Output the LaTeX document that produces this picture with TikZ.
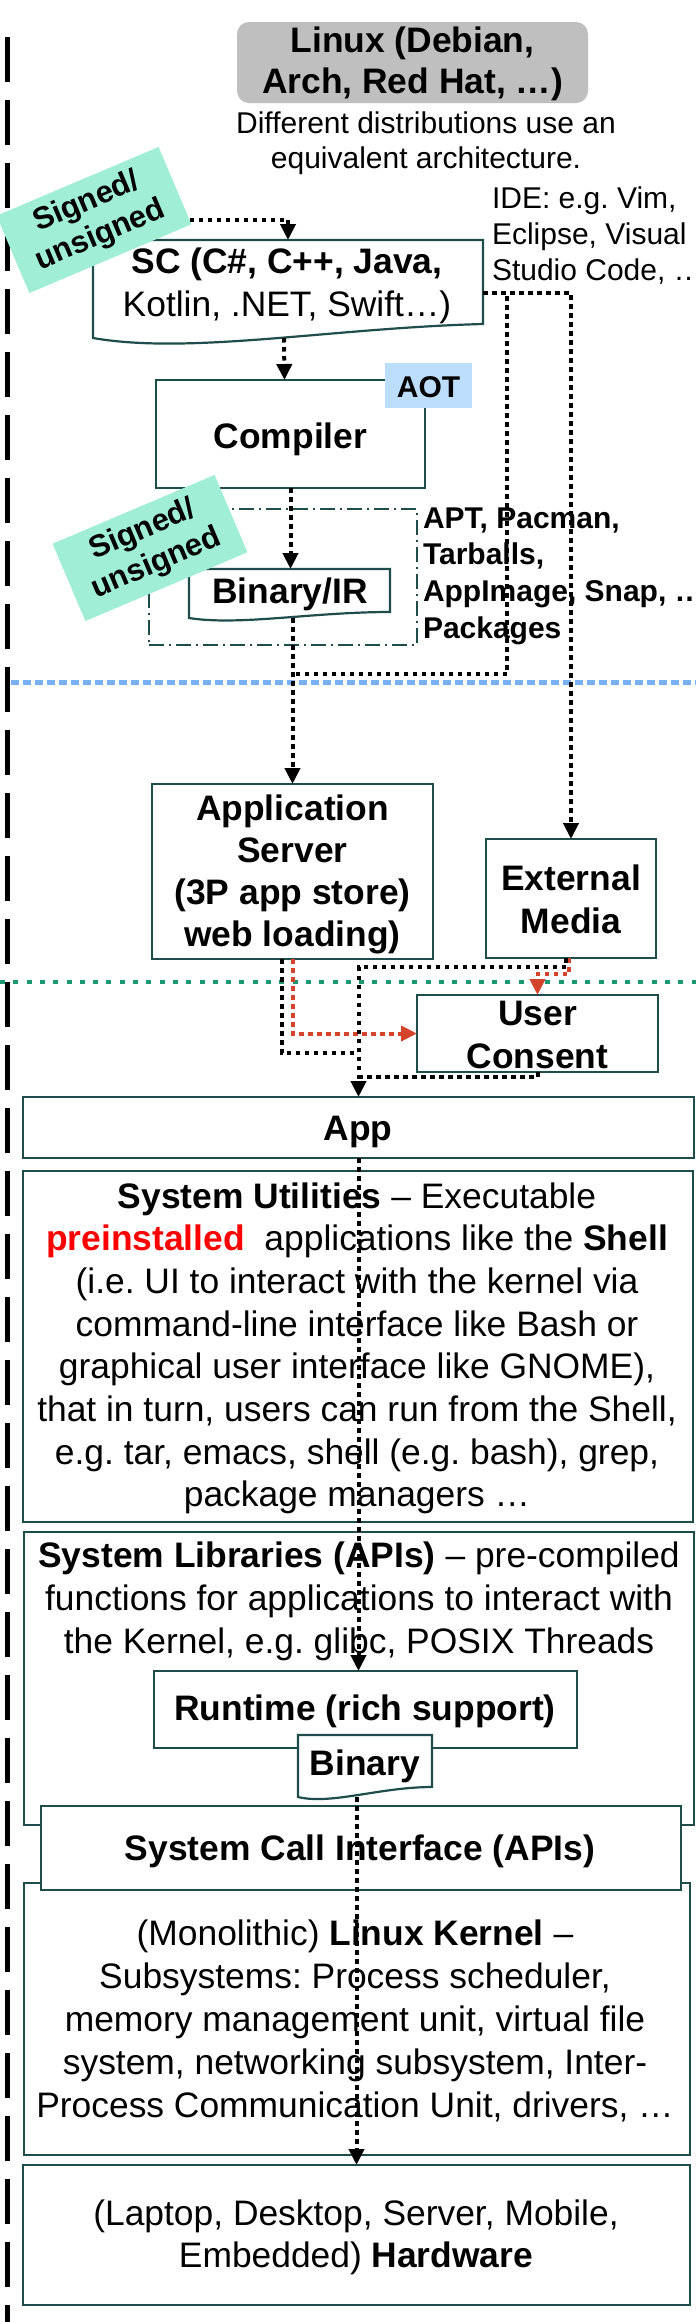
\documentclass[tikz,border=0pt]{standalone}
\usepackage{fontspec}
\setmainfont{Liberation Sans}
\usetikzlibrary{arrows.meta,calc}
\definecolor{boxc}{HTML}{1E4D4B}
\definecolor{linuxgray}{HTML}{BFBFBF}
\definecolor{mint}{HTML}{9FEED5}
\definecolor{aotblue}{HTML}{BDDDFC}
\definecolor{redc}{HTML}{D4432B}
\definecolor{sepblue}{HTML}{78B0F5}
\definecolor{sepgreen}{HTML}{1A9970}
\definecolor{redtxt}{HTML}{FF0000}
\frenchspacing
\newcommand\fsn[2]{\fontsize{#1}{#2}\selectfont\frenchspacing}
\newcommand\fsb[2]{\fontsize{#1}{#2}\selectfont\bfseries\frenchspacing}
\begin{document}
\begin{tikzpicture}[x=1pt,y=-1pt,
  boxline/.style={draw=boxc,line width=2.2pt},
  shapebox/.style={rectangle,inner sep=0pt,outer sep=0pt},
  layer/.style={shapebox,boxline,fill=white},
  txt/.style={inner sep=0pt,outer sep=0pt,align=center},
  conn/.style={draw=black,line width=4pt,dash pattern=on 4.5pt off 4.5pt},
  redconn/.style={conn,draw=redc},
  arr/.style={-{Triangle[length=16pt,width=15pt]}},
  sig/.style={shapebox,fill=mint,minimum width=176pt,minimum height=84pt,rotate=23,align=center,font=\fsb{31}{36}},
]
\useasboundingbox (0,0) rectangle (696,2322);
\fill[white] (0,0) rectangle (696,2322);

% separators
\draw[line width=5pt,dash pattern=on 45pt off 18pt] (7,37) -- (7,2322);
\draw[sepblue,line width=5pt,dash pattern=on 8pt off 4pt] (11,682) -- (696,682);
\draw[sepgreen,line width=4pt,dash pattern=on 5pt off 8.3pt] (0,982) -- (696,982);

% boxes
\node[shapebox,fill=linuxgray,rounded corners=12pt,minimum width=351pt,minimum height=81pt] (linux) at (412.5,62.5) {};
\node[shapebox,minimum width=390pt,minimum height=98pt] (sc) at (288,289) {};
\draw[boxline,fill=white] (sc.north west) -- (sc.north east) -- ($(sc.south east)+(0,-14)$)
  .. controls ($(sc.south west)!0.61!(sc.south east)+(0,-10)$) and ($(sc.south west)!0.25!(sc.south east)+(0,17)$) .. (sc.south west) -- cycle;
\node[layer,minimum width=269pt,minimum height=108pt] (compiler) at (290.5,434) {};
\node[shapebox,fill=aotblue,minimum width=87pt,minimum height=45pt] (aot) at (428.5,385.5) {};
\node[shapebox,draw=boxc,line width=2pt,dash pattern=on 15pt off 5pt on 2pt off 5pt,minimum width=268pt,minimum height=136pt] (pkg) at (283,577) {};
\node[shapebox,minimum width=201pt,minimum height=49pt] (bir) at (289.5,593.5) {};
\draw[boxline,fill=white] (bir.north west) -- (bir.north east) -- ($(bir.south east)+(0,-6)$)
  .. controls ($(bir.south west)!0.61!(bir.south east)+(0,-6)$) and ($(bir.south west)!0.25!(bir.south east)+(0,8)$) .. (bir.south west) -- cycle;
\node[layer,minimum width=281pt,minimum height=175pt] (appserver) at (292.5,871.5) {};
\node[layer,minimum width=170pt,minimum height=119pt] (ext) at (571,898.5) {};
\node[layer,minimum width=241pt,minimum height=77pt] (usercons) at (537.5,1033.5) {};
\node[layer,minimum width=671pt,minimum height=61pt] (app) at (358.5,1127.5) {};
\node[layer,minimum width=670pt,minimum height=351pt] (util) at (358,1346.5) {};
\node[layer,minimum width=670pt,minimum height=293pt] (libs) at (359,1678.5) {};
\node[layer,minimum width=423pt,minimum height=77pt] (runtime) at (365.5,1709.5) {};
\node[shapebox,minimum width=134pt,minimum height=62pt] (bin) at (365,1766) {};
\draw[boxline,fill=white] (bin.north west) -- (bin.north east) -- ($(bin.south east)+(0,-10)$)
  .. controls ($(bin.south west)!0.61!(bin.south east)+(0,-10)$) and ($(bin.south west)!0.25!(bin.south east)+(0,8)$) .. (bin.south west) -- cycle;
\node[layer,minimum width=666pt,minimum height=272pt] (kernel) at (357,2019) {};
\node[layer,minimum width=640pt,minimum height=84pt] (syscall) at (361,1848) {};
\node[layer,minimum width=667pt,minimum height=140pt] (hardware) at (356.5,2235) {};

% texts
\node[txt,font=\fsb{35.4}{41}] (linuxtext) at (412.5,65) {\strut Linux (Debian,\\Arch, Red Hat, …)\strut};
\node[txt,font=\fsn{30}{35}] (disttext) at (426,143.5) {\strut Different distributions use an\\equivalent architecture.\strut};
\node[txt,align=left,anchor=west,font=\fsn{30}{36}] (idetext) at (492,236.8) {\strut IDE: e.g. Vim,\\Eclipse, Visual\\Studio Code, …\strut};
\node[txt,font=\fsn{35.4}{43}] (sctext) at (287,285.9) {\strut\textbf{SC (C\#, C++, Java,}\\Kotlin, .NET, Swift…)\strut};
\node[txt,anchor=base,font=\fsb{30}{36}] (aottext) at (428.5,397) {AOT};
\node[txt,anchor=base,font=\fsb{35.4}{42}] (compilertext) at (290.5,448) {Compiler};
\node[txt,anchor=base,font=\fsb{35.4}{42}] (birtext) at (290,603) {Binary/IR};
\node[txt,align=left,anchor=west,font=\fsb{30}{36.7}] (pkgtext) at (423,575.7) {\strut APT, Pacman,\\Tarballs,\\AppImage, Snap, …\\Packages\strut};
\node[txt,font=\fsb{35.4}{42.3}] (appservertext) at (292.5,875) {\strut Application\\Server\\(3P app store)\\web loading)\strut};
\node[txt,font=\fsb{35.4}{43}] (exttext) at (571,902.9) {\strut External\\Media\strut};
\node[txt,font=\fsb{35.4}{43}] (ucontext) at (537.5,1037.9) {\strut User\\Consent\strut};
\node[txt,anchor=base,font=\fsb{35.4}{42}] (apptext) at (358,1140) {App};
\node[txt,font=\fsn{35.4}{42.7}] (utiltext) at (357,1348.9) {\strut\textbf{System Utilities} – Executable\\
\textcolor{redtxt}{\textbf{preinstalled}}\ \ applications like the \textbf{Shell}\\
(i.e. UI to interact with the kernel via\\
command-line interface like Bash or\\
graphical user interface like GNOME),\\
that in turn, users can run from the Shell,\\
e.g. tar, emacs, shell (e.g. bash), grep,\\
package managers …\strut};
\node[txt,font=\fsn{35.4}{43}] (libtext) at (359,1601.4) {\strut\textbf{System Libraries (APIs)} – pre-compiled\\functions for applications to interact with\\the Kernel, e.g. glibc, POSIX Threads\strut};
\node[txt,anchor=base,font=\fsb{35.4}{42}] (runtimetext) at (365,1720) {Runtime (rich support)};
\node[txt,anchor=base,font=\fsb{35.4}{42}] (bintext) at (365,1775) {Binary};
\node[txt,anchor=base,font=\fsb{35.4}{42}] (syscalltext) at (360,1860) {System Call Interface (APIs)};
\node[txt,font=\fsn{35.4}{43}] (kerneltext) at (355,2022.4) {\strut(Monolithic) \textbf{Linux Kernel} –\\Subsystems: Process scheduler,\\memory management unit, virtual file\\system, networking subsystem, Inter-\\Process Communication Unit, drivers, …\strut};
\node[txt,font=\fsn{35.4}{42}] (hwtext) at (356,2237.6) {\strut(Laptop, Desktop, Server, Mobile,\\Embedded) \textbf{Hardware}\strut};

% labels
\node[sig] (sig1) at (94,220) {\strut Signed/\\unsigned\strut};
\node[sig] (sig2) at (150,548) {\strut Signed/\\unsigned\strut};

% junction coordinates
\coordinate (idebend) at (507,674);
\coordinate (joinA) at (292.5,674);
\coordinate (jB) at (358.5,1053);
\coordinate (jC) at (358.5,967);
\coordinate (jD) at (358.5,1077);

% connectors
\draw[redconn,arr] (appserver.south) |- (usercons.west);
\draw[redconn,arr] ($(ext.south)+(-2,0)$) -- ++(0,16) -| (usercons.north);
\draw[conn,arr] (sig1) -| (sc.north);
\draw[conn,arr] ($(sc.south)+(-4,0)$) -- ($(compiler.north)+(-6,0)$);
\draw[conn,arr] (compiler.south) -- (compiler.south |- bir.north);
\draw[conn,arr] (bir.south -| appserver.north) -- (appserver.north);
\draw[conn,arr] ($(sc.east)+(0,4)$) -| (ext.north);
\draw[conn] ($(sc.east)+(0,4)$) -| (idebend) -- (joinA);
\draw[conn] ($(appserver.south)+(-11,0)$) |- (jB);
\draw[conn,arr] ($(ext.south)+(-5,0)$) |- (jC) -- (app.north);
\draw[conn] (usercons.south) |- (jD);
\draw[conn,arr] (app.south) -- (app.south |- runtime.north);
\draw[conn,arr] (hardware.north |- bin.south) -- (hardware.north);
\end{tikzpicture}
\end{document}
